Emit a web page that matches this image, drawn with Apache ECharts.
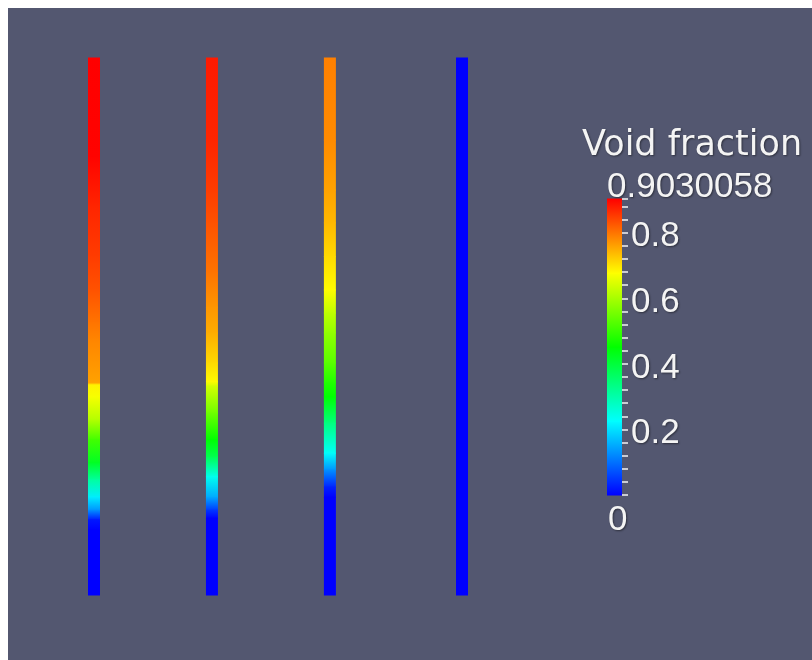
<!DOCTYPE html>
<html>
<head>
<meta charset="utf-8">
<script src="https://cdn.jsdelivr.net/npm/echarts@6/dist/echarts.min.js"></script>
<style>
html,body{margin:0;padding:0;background:#ffffff;}
#chart{width:812px;height:660px;}
</style>
</head>
<body>
<div id="chart"></div>
<script>
// ---- data ----
const fieldName = 'Void fraction';
const fieldMin = 0;
const fieldMax = 0.9030058;
const colorbarTicks = [0.2, 0.4, 0.6, 0.8];
// colour-map control points of the legend bar (blue, cyan, green, yellow, red)
const colorbarStops = [0, 0.2257515, 0.4515029, 0.6772544, 0.9030058];

// horizontal positions of the four pipes (relative units)
const pipeX = [0, 1, 2, 3.12];

// normalised height (0 = bottom, 1 = top) and void fraction samples per pipe
const heights1 = [1.000, 0.816, 0.723, 0.630, 0.568, 0.507, 0.475, 0.395, 0.391, 0.369, 0.326, 0.289, 0.246, 0.214, 0.182, 0.158, 0.140, 0.121, 0.000];
const values1  = [0.903, 0.900, 0.870, 0.850, 0.830, 0.800, 0.785, 0.760, 0.690, 0.670, 0.610, 0.510, 0.420, 0.310, 0.210, 0.130, 0.020, 0.000, 0.000];

const heights2 = [1.000, 0.847, 0.754, 0.693, 0.600, 0.536, 0.488, 0.432, 0.397, 0.389, 0.339, 0.289, 0.257, 0.220, 0.182, 0.158, 0.143, 0.000];
const values2  = [0.880, 0.870, 0.850, 0.830, 0.800, 0.770, 0.750, 0.710, 0.680, 0.640, 0.550, 0.450, 0.380, 0.240, 0.150, 0.050, 0.000, 0.000];

const heights3 = [1.000, 0.847, 0.754, 0.693, 0.630, 0.568, 0.525, 0.488, 0.432, 0.395, 0.369, 0.320, 0.264, 0.233, 0.201, 0.182, 0.000];
const values3  = [0.790, 0.780, 0.760, 0.740, 0.710, 0.680, 0.620, 0.580, 0.530, 0.480, 0.450, 0.340, 0.230, 0.130, 0.030, 0.000, 0.000];

const heights4 = [1.000, 0.500, 0.000];
const values4  = [0.000, 0.000, 0.000];

const rainbow = ['#0000ff', '#00ffff', '#00ff00', '#ffff00', '#ff0000'];

// ---- build ----
function pipeData(x, hs, vs) {
  return hs.map((h, i) => [x, h, vs[i]]);
}
const pipes = [
  pipeData(pipeX[0], heights1, values1),
  pipeData(pipeX[1], heights2, values2),
  pipeData(pipeX[2], heights3, values3),
  pipeData(pipeX[3], heights4, values4)
];
const colorbarData = colorbarStops.map(v => [1, v, v]);

function gradRect(x0, x1, p0y, p1y, c0, c1) {
  const top = Math.min(p0y, p1y);
  const bot = Math.max(p0y, p1y);
  const topColor = p0y <= p1y ? c0 : c1;
  const botColor = p0y <= p1y ? c1 : c0;
  return {
    type: 'rect',
    shape: { x: x0, y: top - 0.5, width: x1 - x0, height: bot - top + 1 },
    style: {
      fill: new echarts.graphic.LinearGradient(0, 0, 0, 1, [
        { offset: 0, color: topColor },
        { offset: 1, color: botColor }
      ])
    }
  };
}

function renderSegment(params, api) {
  const i = params.dataIndexInside;
  if (i >= params.dataInsideLength - 1) return;
  const x = api.value(0, i);
  const p0 = api.coord([x, api.value(1, i)]);
  const p1 = api.coord([x, api.value(1, i + 1)]);
  const c0 = api.visual('color', i);
  const c1 = api.visual('color', i + 1) || c0;
  const w = 12;
  return gradRect(p0[0] - w / 2, p0[0] + w / 2, p0[1], p1[1], c0, c1);
}

function renderColorbar(params, api) {
  const i = params.dataIndexInside;
  if (i >= params.dataInsideLength - 1) return;
  const p0 = api.coord([1, api.value(1, i)]);
  const p1 = api.coord([2, api.value(1, i + 1)]);
  const c0 = api.visual('color', i);
  const c1 = api.visual('color', i + 1) || c0;
  return gradRect(p0[0], p1[0], p0[1], p1[1], c0, c1);
}

const chart = echarts.init(document.getElementById('chart'), null, { renderer: 'canvas' });

const txtShadow = { textShadowColor: 'rgba(0,0,0,0.45)', textShadowBlur: 2, textShadowOffsetX: 1, textShadowOffsetY: 1 };

const series = pipes.map((d, k) => ({
  type: 'custom',
  name: 'Pipe ' + (k + 1),
  xAxisIndex: 0, yAxisIndex: 0,
  renderItem: renderSegment,
  data: d,
  clip: false,
  silent: true
}));
series.push({
  type: 'custom',
  name: 'colorbar',
  xAxisIndex: 1, yAxisIndex: 1,
  renderItem: renderColorbar,
  data: colorbarData,
  clip: false,
  silent: true,
  z: 1
});

const option = {
  backgroundColor: '#ffffff',
  animation: false,
  graphic: [
    { type: 'rect', left: 8, top: 8, z: -10, silent: true,
      shape: { width: 804, height: 652 }, style: { fill: '#535770' } },
    { type: 'text', x: 582, y: 146, z: 10,
      style: Object.assign({ text: fieldName, fill: '#f4f4f4', font: '35px "DejaVu Sans"', textVerticalAlign: 'middle' }, txtShadow) },
    { type: 'text', x: 607, y: 187, z: 10,
      style: Object.assign({ text: String(fieldMax), fill: '#f4f4f4', font: '35px "Liberation Sans"', textVerticalAlign: 'middle' }, txtShadow) },
    { type: 'text', x: 608, y: 520, z: 10,
      style: Object.assign({ text: String(fieldMin), fill: '#f4f4f4', font: '35px "Liberation Sans"', textVerticalAlign: 'middle' }, txtShadow) }
  ],
  grid: [
    { left: 94, right: 350, top: 58, bottom: 65 },
    { left: 607, top: 199, width: 15, height: 296 }
  ],
  xAxis: [
    { type: 'value', gridIndex: 0, min: 0, max: pipeX[3], show: false },
    { type: 'value', gridIndex: 1, min: 1, max: 2, show: false, axisLine: { onZero: false } }
  ],
  yAxis: [
    { type: 'value', gridIndex: 0, min: 0, max: 1, show: false },
    { type: 'value', gridIndex: 1, min: fieldMin, max: fieldMax, interval: 0.2,
      position: 'right', z: 20,
      axisLine: { show: false, onZero: false },
      splitLine: { show: false },
      axisTick: { show: true, inside: false, length: 6, lineStyle: { color: '#f4f4f4', width: 1.5 } },
      minorTick: { show: true, splitNumber: 5, length: 6, lineStyle: { color: '#f4f4f4', width: 1.5 } },
      axisLabel: {
        show: true, margin: 9, color: '#f4f4f4', fontSize: 35, fontFamily: 'Liberation Sans',
        showMinLabel: false, showMaxLabel: false,
        textShadowColor: 'rgba(0,0,0,0.45)', textShadowBlur: 2, textShadowOffsetX: 1, textShadowOffsetY: 1,
        formatter: function (v) {
          return colorbarTicks.some(t => Math.abs(t - v) < 1e-6) ? '{a|' + (Math.round(v * 10) / 10) + '}' : '';
        },
        rich: { a: { color: '#f4f4f4', fontSize: 35, fontFamily: 'Liberation Sans', padding: [8, 0, 0, 0],
          textShadowColor: 'rgba(0,0,0,0.45)', textShadowBlur: 2, textShadowOffsetX: 1, textShadowOffsetY: 1 } }
      }
    }
  ],
  visualMap: {
    type: 'continuous',
    show: false,
    min: fieldMin, max: fieldMax,
    dimension: 2,
    seriesIndex: [0, 1, 2, 3, 4],
    inRange: { color: rainbow }
  },
  series: series
};
chart.setOption(option);
</script>
</body>
</html>
